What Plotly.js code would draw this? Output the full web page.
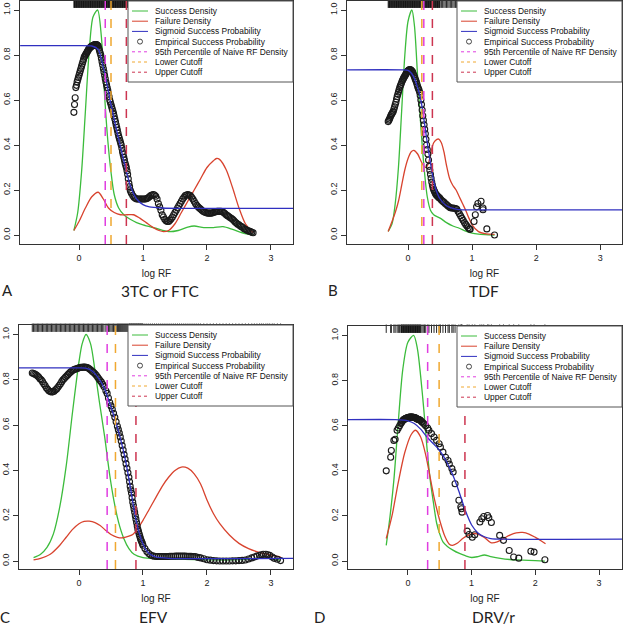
<!DOCTYPE html>
<html>
<head>
<meta charset="utf-8">
<script src="https://cdn.plot.ly/plotly-3.0.1.min.js"></script>
<style>
  html, body { margin: 0; padding: 0; background: #fff; }
  #plot { width: 624px; height: 627px; }
</style>
</head>
<body>
<div id="plot"></div>
<script>
// ---------- panel A: 3TC or FTC ----------
const aSuccessX = [-0.08,-0.02,0.04,0.1,0.16,0.22,0.29,0.35,0.4,0.45,0.5,0.55,0.62,0.7,0.8,0.9,1.0,1.2,1.4,1.55,1.7,1.8,1.95,2.1,2.25,2.4,2.55,2.72];
const aSuccessY = [0.02,0.1,0.28,0.55,0.82,0.97,1.0,0.88,0.62,0.42,0.28,0.18,0.12,0.09,0.07,0.055,0.045,0.03,0.015,0.02,0.035,0.04,0.033,0.033,0.037,0.025,0.01,0.0];
const aFailX = [-0.08,0.0,0.1,0.2,0.3,0.38,0.46,0.55,0.65,0.75,0.85,0.95,1.05,1.15,1.25,1.32,1.4,1.5,1.6,1.7,1.8,1.9,2.0,2.1,2.15,2.2,2.3,2.4,2.5,2.6,2.72];
const aFailY = [0.02,0.06,0.12,0.17,0.19,0.16,0.12,0.1,0.09,0.09,0.09,0.075,0.055,0.035,0.02,0.015,0.02,0.05,0.1,0.15,0.2,0.25,0.3,0.33,0.34,0.335,0.29,0.21,0.12,0.05,0.01];
const aSigX = [-0.92,0.0,0.2,0.3,0.4,0.5,0.6,0.7,0.8,0.9,1.0,1.1,1.3,1.6,3.35];
const aSigY = [0.842,0.842,0.84,0.825,0.72,0.58,0.45,0.33,0.22,0.16,0.135,0.125,0.12,0.118,0.118];
const aEmpX = [-0.08,-0.07,-0.06,-0.05,-0.04,-0.03,-0.02,-0.01,0.0,0.01,0.02,0.03,0.04,0.05,0.06,0.07,0.08,0.09,0.1,0.11,0.12,0.13,0.14,0.15,0.16,0.17,0.18,0.19,0.2,0.21,0.22,0.23,0.24,0.25,0.26,0.27,0.28,0.29,
  0.3,0.31,0.32,0.33,0.34,0.35,0.36,0.37,0.38,0.39,0.4,0.41,0.42,0.43,0.44,0.45,0.46,0.47,0.48,0.49,0.5,0.51,0.52,0.53,0.54,0.55,0.56,0.57,0.58,0.59,0.6,0.61,0.62,0.63,0.64,0.65,0.66,0.67,0.68,0.69,0.7,0.71,0.72,0.73,0.74,0.75,0.76,0.77,0.78,0.79,0.8,0.81,0.82,
  0.84,0.86,0.88,0.9,0.92,0.94,0.96,0.98,1.0,1.02,1.04,1.06,1.08,1.1,1.12,1.14,1.16,1.18,1.2,1.22,1.24,1.26,1.28,1.3,1.32,1.34,1.36,1.38,1.4,1.42,1.44,1.46,1.48,1.5,1.52,1.54,1.56,1.58,1.6,1.62,1.64,1.66,1.68,1.7,1.72,1.74,1.76,1.78,1.8,1.82,1.84,1.86,1.88,1.9,1.92,1.94,1.96,1.98,
  2.0,2.02,2.04,2.06,2.08,2.1,2.12,2.14,2.16,2.18,2.2,2.22,2.24,2.26,2.28,2.3,2.32,2.34,2.36,2.38,2.4,2.42,2.44,2.46,2.48,2.5,2.52,2.54,2.56,2.58,2.6,2.62,2.64,2.66,2.68,2.7,2.72];
const aEmpY = [0.545,0.58,0.61,0.655,0.665,0.68,0.69,0.7,0.71,0.72,0.73,0.74,0.75,0.76,0.77,0.78,0.79,0.795,0.8,0.805,0.81,0.815,0.82,0.825,0.83,0.832,0.835,0.838,0.84,0.841,0.842,0.844,0.845,0.846,0.846,0.846,0.845,0.843,
  0.84,0.83,0.82,0.81,0.8,0.785,0.77,0.755,0.74,0.725,0.71,0.695,0.68,0.668,0.655,0.643,0.63,0.615,0.6,0.59,0.58,0.57,0.56,0.55,0.54,0.528,0.515,0.503,0.49,0.478,0.465,0.452,0.44,0.43,0.42,0.41,0.4,0.385,0.37,0.358,0.345,0.333,0.32,0.31,0.3,0.285,0.27,0.25,0.23,0.215,0.2,0.192,0.185,
  0.175,0.168,0.163,0.16,0.16,0.16,0.16,0.16,0.16,0.16,0.16,0.162,0.165,0.17,0.175,0.178,0.18,0.178,0.172,0.16,0.14,0.125,0.11,0.09,0.08,0.07,0.063,0.06,0.06,0.065,0.072,0.08,0.09,0.1,0.11,0.12,0.13,0.14,0.15,0.16,0.168,0.175,0.178,0.18,0.178,0.175,0.168,0.16,0.15,0.14,0.132,0.125,0.12,0.115,0.11,0.105,0.102,0.1,
  0.098,0.097,0.097,0.097,0.098,0.1,0.102,0.103,0.105,0.105,0.105,0.105,0.103,0.1,0.095,0.09,0.086,0.082,0.078,0.074,0.07,0.064,0.058,0.053,0.048,0.045,0.04,0.037,0.033,0.028,0.025,0.022,0.019,0.017,0.015,0.012,0.01];
const aCutoffs = [0.41, 0.50, 0.74]; // 95th percentile, lower, upper

// ---------- panel B: TDF ----------
const bSuccessX = [-0.31,-0.25,-0.2,-0.15,-0.1,-0.05,0.0,0.06,0.1,0.15,0.2,0.25,0.3,0.35,0.4,0.5,0.6,0.7,0.8,0.9,1.0,1.1,1.2,1.35];
const bSuccessY = [0.016,0.05,0.14,0.3,0.55,0.8,0.95,1.0,0.93,0.7,0.48,0.3,0.17,0.11,0.09,0.075,0.055,0.04,0.03,0.017,0.008,0.004,0.002,0.0];
const bFailX = [-0.31,-0.25,-0.2,-0.15,-0.1,-0.05,0.0,0.05,0.09,0.15,0.2,0.25,0.28,0.32,0.36,0.4,0.45,0.48,0.52,0.56,0.6,0.65,0.7,0.75,0.8,0.85,0.9,0.95,1.0,1.1,1.2,1.35];
const bFailY = [0.016,0.06,0.1,0.15,0.22,0.29,0.34,0.37,0.376,0.36,0.33,0.305,0.3,0.32,0.37,0.41,0.425,0.426,0.41,0.37,0.31,0.25,0.22,0.2,0.17,0.14,0.11,0.075,0.045,0.015,0.006,0.003];
const bSigX = [-0.95,-0.1,0.0,0.05,0.1,0.15,0.2,0.25,0.3,0.35,0.4,0.45,0.5,0.6,0.7,0.8,1.0,3.36];
const bSigY = [0.734,0.734,0.732,0.72,0.695,0.655,0.6,0.51,0.41,0.32,0.24,0.19,0.16,0.13,0.118,0.113,0.112,0.112];
const bEmpX = [-0.31,-0.3,-0.29,-0.28,-0.27,-0.26,-0.25,-0.24,-0.23,-0.22,-0.21,-0.2,-0.19,-0.18,-0.17,-0.16,-0.15,-0.14,-0.13,-0.12,-0.11,-0.1,-0.09,-0.08,-0.07,-0.06,-0.05,-0.04,-0.03,-0.02,-0.01,
  0.0,0.01,0.02,0.03,0.04,0.05,0.06,0.07,0.08,0.09,0.1,0.11,0.12,0.13,0.14,0.15,0.16,0.17,0.18,0.19,0.2,0.21,0.22,0.23,0.24,0.25,0.26,0.27,0.28,0.29,0.3,0.31,0.32,0.33,0.34,0.35,0.36,0.37,0.38,0.39,0.4,0.41,0.42,0.43,0.44,0.45,0.46,0.47,0.48,0.49,
  0.5,0.52,0.54,0.56,0.58,0.6,0.62,0.64,0.66,0.68,0.7,0.72,0.74,0.76,0.78,0.8,0.82,0.84,0.86,0.88,0.9,0.92,0.94,0.96,0.97,1.03,1.05,1.07,1.09,1.14,1.17,1.17,1.23,1.35];
const bEmpY = [0.504,0.51,0.515,0.522,0.53,0.535,0.54,0.545,0.55,0.56,0.57,0.58,0.59,0.603,0.615,0.625,0.635,0.645,0.655,0.663,0.67,0.678,0.685,0.691,0.697,0.702,0.707,0.712,0.717,0.722,0.727,
  0.73,0.733,0.734,0.735,0.734,0.732,0.729,0.725,0.718,0.71,0.703,0.695,0.688,0.68,0.67,0.66,0.652,0.645,0.635,0.62,0.6,0.58,0.555,0.53,0.51,0.49,0.47,0.45,0.425,0.4,0.38,0.36,0.333,0.305,0.288,0.27,0.252,0.235,0.222,0.21,0.202,0.195,0.189,0.183,0.179,0.176,0.173,0.17,0.167,0.165,
  0.162,0.155,0.15,0.146,0.14,0.135,0.13,0.125,0.121,0.12,0.12,0.119,0.118,0.115,0.105,0.095,0.085,0.075,0.065,0.055,0.047,0.04,0.032,0.027,0.025,0.06,0.09,0.125,0.14,0.15,0.12,0.112,0.027,0.0];
const bCutoffs = [0.246, 0.215, 0.38];

// ---------- panel C: EFV ----------
const cSuccessX = [-0.71,-0.6,-0.5,-0.4,-0.3,-0.2,-0.1,0.0,0.05,0.11,0.18,0.25,0.32,0.4,0.48,0.55,0.62,0.7,0.78,0.86,1.0,1.2,1.5,1.8,2.1,2.4,2.7,2.85,3.0,3.15];
const cSuccessY = [0.015,0.03,0.06,0.12,0.24,0.42,0.66,0.88,0.96,1.0,0.96,0.84,0.7,0.55,0.38,0.26,0.17,0.1,0.055,0.03,0.015,0.01,0.008,0.007,0.005,0.005,0.01,0.015,0.01,0.004];
const cFailX = [-0.71,-0.6,-0.45,-0.3,-0.2,-0.1,0.0,0.08,0.16,0.25,0.33,0.42,0.5,0.6,0.69,0.78,0.85,0.92,1.0,1.1,1.2,1.3,1.4,1.5,1.6,1.7,1.8,1.9,2.0,2.1,2.2,2.35,2.5,2.65,2.8,2.95,3.15];
const cFailY = [0.005,0.012,0.03,0.07,0.105,0.14,0.165,0.175,0.176,0.17,0.157,0.135,0.117,0.105,0.103,0.11,0.12,0.145,0.18,0.23,0.28,0.33,0.37,0.4,0.415,0.41,0.385,0.34,0.27,0.21,0.165,0.115,0.078,0.055,0.04,0.03,0.018];
const cSigX = [-0.94,0.0,0.1,0.2,0.3,0.4,0.5,0.6,0.7,0.75,0.8,0.85,0.9,0.95,1.0,1.05,1.1,1.2,1.4,3.35];
const cSigY = [0.853,0.853,0.852,0.84,0.81,0.76,0.68,0.59,0.48,0.41,0.33,0.245,0.17,0.115,0.075,0.048,0.032,0.018,0.012,0.012];
const cEmpX = [-0.73,-0.71,-0.69,-0.67,-0.65,-0.63,-0.61,-0.59,-0.57,-0.55,-0.53,-0.51,-0.49,-0.47,-0.45,-0.43,-0.41,-0.39,-0.37,-0.35,-0.33,-0.31,-0.29,-0.27,-0.25,-0.23,-0.21,-0.19,-0.17,-0.15,-0.13,-0.11,-0.09,-0.07,-0.05,-0.03,-0.01,
  0.01,0.03,0.05,0.07,0.09,0.11,0.13,0.15,0.17,0.19,0.21,0.23,0.25,0.27,0.29,0.31,0.33,0.35,0.37,0.39,0.42,0.44,0.46,0.48,0.5,0.52,0.54,0.56,0.58,0.6,0.615,0.63,0.645,0.66,0.675,0.69,0.705,0.72,0.735,0.75,0.765,0.78,0.79,0.8,0.81,0.82,0.83,0.84,0.85,0.86,0.87,0.88,0.89,0.9,0.91,0.92,0.93,0.94,0.95,0.96,0.97,0.98,0.99,1.0,
  1.03,1.06,1.09,1.12,1.15,1.18,1.21,1.24,1.27,1.3,1.33,1.36,1.39,1.42,1.45,1.48,1.51,1.54,1.57,1.6,1.63,1.66,1.69,1.72,1.75,1.78,1.81,1.84,1.87,1.9,1.95,2.0,2.05,2.1,2.15,2.2,2.25,2.3,2.35,2.4,2.45,2.5,2.55,2.6,2.65,2.7,2.74,2.78,2.82,2.85,2.88,2.92,2.95,2.98,3.02,3.05,3.1,3.15];
const cEmpY = [0.83,0.828,0.825,0.822,0.818,0.812,0.805,0.8,0.792,0.783,0.775,0.765,0.758,0.752,0.748,0.746,0.747,0.75,0.755,0.76,0.767,0.775,0.783,0.792,0.8,0.806,0.812,0.818,0.824,0.83,0.835,0.84,0.843,0.846,0.848,0.85,0.852,
  0.854,0.855,0.855,0.856,0.856,0.855,0.854,0.851,0.847,0.842,0.837,0.832,0.827,0.82,0.812,0.805,0.797,0.79,0.78,0.77,0.752,0.74,0.72,0.7,0.685,0.67,0.652,0.635,0.615,0.595,0.58,0.565,0.548,0.53,0.51,0.49,0.47,0.45,0.43,0.41,0.39,0.37,0.35,0.33,0.315,0.3,0.28,0.26,0.245,0.23,0.215,0.2,0.185,0.17,0.155,0.14,0.13,0.12,0.11,0.1,0.092,0.085,0.078,0.07,
  0.055,0.042,0.033,0.027,0.023,0.021,0.02,0.02,0.02,0.02,0.02,0.02,0.02,0.021,0.021,0.021,0.022,0.022,0.022,0.022,0.022,0.022,0.021,0.021,0.021,0.02,0.02,0.018,0.016,0.014,0.01,0.006,0.004,0.002,0.001,0.0,0.0,0.0,0.0,0.001,0.001,0.002,0.003,0.005,0.009,0.014,0.018,0.022,0.026,0.028,0.03,0.03,0.028,0.025,0.018,0.012,0.008,0.002];
const cCutoffs = [0.44, 0.57, 0.89];

// ---------- panel D: DRV/r ----------
const dSuccessX = [-0.34,-0.28,-0.22,-0.15,-0.08,0.0,0.09,0.15,0.2,0.25,0.3,0.35,0.4,0.45,0.5,0.55,0.62,0.7,0.8,0.9,1.0,1.1,1.2,1.3,1.45,1.6,1.8,2.0,2.15];
const dSuccessY = [0.07,0.2,0.36,0.62,0.85,0.97,1.0,0.94,0.82,0.67,0.5,0.36,0.26,0.17,0.12,0.085,0.065,0.05,0.035,0.024,0.016,0.02,0.027,0.02,0.012,0.007,0.004,0.002,0.0];
const dFailX = [-0.34,-0.25,-0.15,-0.05,0.05,0.12,0.2,0.28,0.35,0.42,0.5,0.58,0.65,0.7,0.78,0.86,0.95,1.02,1.1,1.2,1.3,1.4,1.5,1.6,1.7,1.8,1.9,2.0,2.1,2.16];
const dFailY = [0.1,0.2,0.35,0.48,0.56,0.58,0.55,0.47,0.37,0.27,0.18,0.11,0.075,0.07,0.08,0.1,0.115,0.122,0.12,0.105,0.082,0.085,0.1,0.115,0.125,0.127,0.12,0.105,0.088,0.077];
const dSigX = [-0.94,-0.2,0.0,0.1,0.2,0.3,0.4,0.5,0.6,0.7,0.8,0.9,1.0,1.1,1.2,1.3,1.5,3.36];
const dSigY = [0.627,0.627,0.622,0.61,0.585,0.55,0.52,0.49,0.445,0.385,0.31,0.225,0.16,0.125,0.108,0.1,0.097,0.097];
const dEmpX = [-0.34,-0.27,-0.26,-0.22,-0.2,-0.17,-0.15,-0.13,-0.11,-0.1,-0.09,-0.08,-0.07,-0.06,-0.05,-0.04,-0.03,-0.02,-0.01,0.0,0.01,0.02,0.03,0.04,0.05,0.06,0.07,0.08,0.09,0.1,0.11,0.12,0.13,0.14,0.15,0.16,0.17,0.18,0.19,0.2,0.22,0.24,0.26,0.28,
  0.31,0.33,0.37,0.41,0.45,0.49,0.51,0.55,0.59,0.63,0.65,0.69,0.71,0.74,0.8,0.83,0.84,0.85,0.93,0.96,1.01,1.05,1.13,1.16,1.19,1.25,1.27,1.31,1.44,1.5,1.59,1.66,1.74,1.93,1.98,2.15];
const dEmpY = [0.4,0.46,0.49,0.535,0.54,0.58,0.59,0.6,0.61,0.615,0.62,0.623,0.626,0.628,0.63,0.632,0.633,0.634,0.635,0.636,0.637,0.637,0.638,0.638,0.638,0.638,0.638,0.637,0.637,0.636,0.635,0.635,0.633,0.631,0.63,0.628,0.627,0.626,0.625,0.623,0.617,0.612,0.606,0.6,
  0.59,0.58,0.565,0.55,0.535,0.52,0.505,0.483,0.46,0.446,0.43,0.41,0.395,0.343,0.27,0.24,0.232,0.217,0.133,0.118,0.106,0.117,0.173,0.188,0.198,0.202,0.192,0.171,0.114,0.092,0.047,0.018,0.013,0.044,0.04,0.006];
const dCutoffs = [0.31, 0.49, 0.895];

const legendNames = ["Success Density", "Failure Density", "Sigmoid Success Probability",
  "Empirical Success Probability", "95th Percentile of Naive RF Density", "Lower Cutoff", "Upper Cutoff"];

// ---------- styling ----------
const GREEN = "#3cbc3c", RED = "#d8432e", BLUE = "#3030c0";
const MAGENTA = "#e03ee0", ORANGE = "#f0a830", UPPER = "#cc3550";
const W = 624, H = 627;
const px = v => v / W;
const py = v => 1 - v / H;

// plot boxes in pixels: [left, right, top, bottom]
const panels = [
  {ax: "", letter: "A", title: "3TC or FTC", box: [20, 293, 1, 244], xr: [-0.922, 3.344], yr: [-0.04, 1.04],
   letterAt: [7, 290], titleAt: [160, 291],
   s: [aSuccessX, aSuccessY], f: [aFailX, aFailY], g: [aSigX, aSigY], e: [aEmpX, aEmpY], cut: aCutoffs},
  {ax: "2", letter: "B", title: "TDF", box: [347, 622, 1, 244], xr: [-0.953, 3.34], yr: [-0.04, 1.04],
   letterAt: [333, 290], titleAt: [484, 291],
   s: [bSuccessX, bSuccessY], f: [bFailX, bFailY], g: [bSigX, bSigY], e: [bEmpX, bEmpY], cut: bCutoffs},
  {ax: "3", letter: "C", title: "EFV", box: [19, 293, 325, 569], xr: [-0.9375, 3.344], yr: [-0.035, 1.042],
   letterAt: [5, 617], titleAt: [153, 617],
   s: [cSuccessX, cSuccessY], f: [cFailX, cFailY], g: [cSigX, cSigY], e: [cEmpX, cEmpY], cut: cCutoffs},
  {ax: "4", letter: "D", title: "DRV/r", box: [348, 622, 326, 569], xr: [-0.94, 3.36], yr: [-0.035, 1.042],
   letterAt: [319, 617], titleAt: [493, 617],
   s: [dSuccessX, dSuccessY], f: [dFailX, dFailY], g: [dSigX, dSigY], e: [dEmpX, dEmpY], cut: dCutoffs}
];

const traces = [];
const shapes = [];
const annotations = [];
const layout = {
  width: W, height: H,
  margin: {l: 0, r: 0, t: 0, b: 0},
  paper_bgcolor: "#fff", plot_bgcolor: "#fff",
  showlegend: false,
  font: {family: "Liberation Sans, Arial, sans-serif", size: 9, color: "#222"}
};

panels.forEach(p => {
  const xa = "x" + p.ax, ya = "y" + p.ax;
  const [L, R, T, B] = p.box;

  layout["xaxis" + p.ax] = {
    domain: [px(L), px(R)], range: p.xr, anchor: ya,
    showgrid: false, zeroline: false, showline: true, mirror: true,
    linecolor: "#333", linewidth: 1,
    ticks: "outside", ticklen: 5, tickcolor: "#333", tickvals: [0, 1, 2, 3],
    tickfont: {size: 9},
    title: {text: "log RF", font: {size: 10}, standoff: 8}
  };
  layout["yaxis" + p.ax] = {
    domain: [py(B), py(T)], range: p.yr, anchor: xa,
    showgrid: false, zeroline: false, showline: true, mirror: true,
    linecolor: "#333", linewidth: 1,
    ticks: "outside", ticklen: 5, tickcolor: "#333",
    tickvals: [0, 0.2, 0.4, 0.6, 0.8, 1.0], tickformat: ".1f",
    tickangle: -90, tickfont: {size: 9}, ticklabelstandoff: 0
  };

  traces.push({x: p.s[0], y: p.s[1], xaxis: xa, yaxis: ya, mode: "lines", name: legendNames[0],
    line: {color: GREEN, width: 1.3, shape: "spline", smoothing: 0.8}});
  traces.push({x: p.f[0], y: p.f[1], xaxis: xa, yaxis: ya, mode: "lines", name: legendNames[1],
    line: {color: RED, width: 1.3, shape: "spline", smoothing: 0.8}});
  traces.push({x: p.e[0], y: p.e[1], xaxis: xa, yaxis: ya, mode: "markers", name: legendNames[3],
    marker: {symbol: "circle-open", size: 6, color: "#1a1a1a", line: {width: 1.1}}});
  traces.push({x: p.g[0], y: p.g[1], xaxis: xa, yaxis: ya, mode: "lines", name: legendNames[2],
    line: {color: BLUE, width: 1.3, shape: "spline", smoothing: 0.6}});
  // rug of observed log RF values along the top edge
  traces.push({x: p.e[0], y: p.e[0].map(() => p.yr[1] - 0.012), xaxis: xa, yaxis: ya, mode: "markers",
    name: "rug", cliponaxis: false,
    marker: {symbol: "line-ns", size: 6, line: {color: "rgba(0,0,0,0.85)", width: 1}}});

  // cutoff lines
  const cutColors = [MAGENTA, ORANGE, UPPER];
  p.cut.forEach((c, i) => {
    shapes.push({type: "line", xref: xa, yref: ya + " domain", x0: c, x1: c, y0: 0, y1: 1,
      line: {color: cutColors[i], width: 1.5, dash: "dash"}, layer: "above"});
  });

  // legend box (top right of the plot)
  const lgL = R - 165, lgT = T, lgB = T + 81;
  shapes.push({type: "rect", xref: "paper", yref: "paper", x0: px(lgL), x1: px(R), y0: py(lgB), y1: py(lgT),
    fillcolor: "#fff", line: {color: "#555", width: 1}, layer: "above"});
  const samples = [
    {c: GREEN, d: "solid"}, {c: RED, d: "solid"}, {c: BLUE, d: "solid"}, {circle: true},
    {c: MAGENTA, d: "dot"}, {c: ORANGE, d: "dot"}, {c: UPPER, d: "dot"}
  ];
  samples.forEach((s, i) => {
    const ry = lgT + 10 + i * 10.2;
    if (s.circle) {
      shapes.push({type: "circle", xref: "paper", yref: "paper",
        x0: px(lgL + 9.5), x1: px(lgL + 14.5), y0: py(ry + 2.5), y1: py(ry - 2.5),
        line: {color: "#333", width: 0.9}, layer: "above"});
    } else {
      shapes.push({type: "line", xref: "paper", yref: "paper",
        x0: px(lgL + 4), x1: px(lgL + 20), y0: py(ry), y1: py(ry),
        line: {color: s.c, width: 1, dash: s.d}, layer: "above"});
    }
    annotations.push({xref: "paper", yref: "paper", x: px(lgL + 25), y: py(ry),
      xanchor: "left", yanchor: "middle", showarrow: false, text: legendNames[i],
      font: {size: 8.4, color: "#111"}});
  });

  annotations.push({xref: "paper", yref: "paper", x: px(p.letterAt[0]), y: py(p.letterAt[1]),
    xanchor: "center", yanchor: "middle", showarrow: false, text: p.letter,
    font: {family: "Lato, sans-serif", size: 15, color: "#222"}});
  annotations.push({xref: "paper", yref: "paper", x: px(p.titleAt[0]), y: py(p.titleAt[1]),
    xanchor: "center", yanchor: "middle", showarrow: false, text: p.title,
    font: {family: "Lato, sans-serif", size: 15.5, color: "#222"}});
});

layout.shapes = shapes;
layout.annotations = annotations;

Plotly.newPlot("plot", traces, layout, {displayModeBar: false, staticPlot: true});
</script>
</body>
</html>
